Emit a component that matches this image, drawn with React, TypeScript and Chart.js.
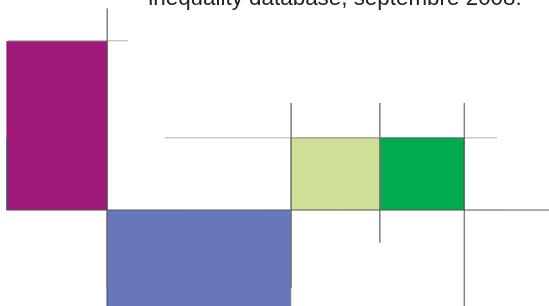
import React, { useEffect, useRef } from "react";
import { Chart, registerables } from "chart.js";

Chart.register(...registerables);

// Variable-width bars: x in % of population (cumulative), y in value units
const categories = ["Groupe 1", "Groupe 2", "Groupe 3", "Groupe 4"];
const startX = 1.0;
const widths = [15.0, 27.4, 13.3, 12.6];
const heights = [53.7, -37, 23, 23];
const colors = ["#a0197a", "#6777b9", "#cde096", "#00aa4f"];
const borders = ["#5a1046", "#3d4670", "#8a9a60", "#0b5a30"];

// thin marker at left edge
const edgeMarkX = 1.0;
const edgeMarkTop = 23;

// reference lines: [x, yFrom, yTo]
const verticalLines: [number, number, number][] = [
  [16.0, 64.2, -24.7],
  [43.45, 34.1, -24.7],
  [56.7, 34.1, -10.4],
  [69.3, 34.1, -40],
];
// reference lines: [y, xFrom, xTo]
const horizontalLines: [number, number, number][] = [
  [53.9, 1.2, 19.1],
  [23, 24.6, 74.2],
];
const baselineRange: [number, number] = [1.0, 100];

const title = "inequality database, septembre 2008.";

export default function App() {
  const ref = useRef<HTMLCanvasElement | null>(null);
  useEffect(() => {
    if (!ref.current) return;
    const datasets: any[] = [];
    verticalLines.forEach(([x, a, b]) => {
      datasets.push({
        data: [{ x, y: a }, { x, y: b }],
        borderColor: "rgba(110,110,110,0.65)",
        borderWidth: 1,
        pointRadius: 0,
        fill: false,
        clip: false,
        order: 1,
      });
    });
    horizontalLines.forEach(([y, a, b]) => {
      datasets.push({
        data: [{ x: a, y }, { x: b, y }],
        borderColor: "rgba(140,140,140,0.7)",
        borderWidth: 1,
        pointRadius: 0,
        fill: false,
        clip: false,
        order: 1,
      });
    });
    datasets.push({
      data: [{ x: baselineRange[0], y: 0 }, { x: baselineRange[1], y: 0 }],
      borderColor: "#555555",
      borderWidth: 1,
      pointRadius: 0,
      fill: false,
      clip: false,
      order: 0,
    });
    datasets.push({
      data: [{ x: edgeMarkX, y: 0 }, { x: edgeMarkX, y: edgeMarkTop }],
      borderColor: "#1a8a5a",
      borderWidth: 1,
      pointRadius: 0,
      fill: false,
      clip: false,
      order: 2,
    });
    let x0 = startX;
    categories.forEach((c, i) => {
      const x1 = x0 + widths[i];
      const h = heights[i];
      datasets.push({
        label: c,
        data: [
          { x: x0, y: 0 },
          { x: x0, y: h },
          { x: x1, y: h },
          { x: x1, y: 0 },
        ],
        borderColor: borders[i],
        backgroundColor: colors[i],
        borderWidth: 0.6,
        pointRadius: 0,
        tension: 0,
        fill: "origin",
        clip: false,
        order: 5,
      });
      x0 = x1;
    });

    const chart = new Chart(ref.current, {
      type: "line",
      data: { datasets },
      options: {
        animation: false,
        responsive: true,
        maintainAspectRatio: false,
        layout: { padding: 0 },
        plugins: {
          legend: { display: false },
          tooltip: { enabled: false },
          title: {
            display: true,
            text: title,
            color: "#222222",
            font: { family: "Liberation Sans", size: 22.4, weight: "normal" },
            padding: { top: 0, bottom: 4.12 },
          },
        },
        scales: {
          x: { type: "linear", min: 0, max: 100, display: false },
          y: { type: "linear", min: -38.2, max: 61.8, display: false },
        },
      },
    });
    return () => chart.destroy();
  }, []);

  return (
    <div
      style={{
        position: "fixed",
        left: 0,
        top: 0,
        width: 549,
        height: 306,
        overflow: "hidden",
        background: "#ffffff",
      }}
    >
      <div style={{ position: "absolute", left: 0, top: -15, width: 670, height: 345 }}>
        <canvas ref={ref} />
      </div>
    </div>
  );
}
